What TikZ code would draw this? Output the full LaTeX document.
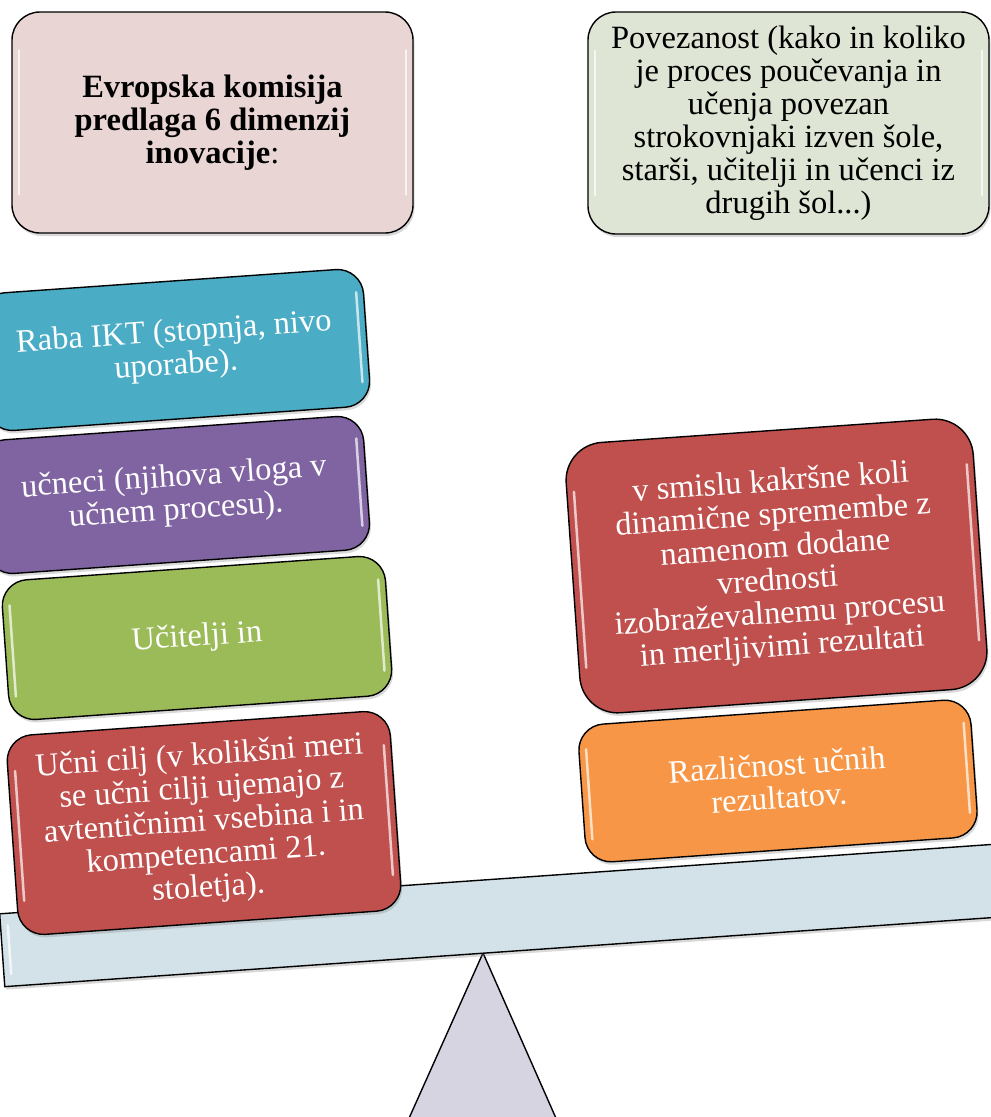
\documentclass[tikz,border=0pt]{standalone}
\usepackage{fontspec}
\setmainfont{Liberation Serif}
\usetikzlibrary{shadows,calc}

\definecolor{headpink}{HTML}{E8D5D4}
\definecolor{headgreen}{HTML}{DEE5D4}
\definecolor{iktblue}{HTML}{4BACC6}
\definecolor{ucpurple}{HTML}{8064A2}
\definecolor{ucgreen}{HTML}{9BBB59}
\definecolor{ciljred}{HTML}{C0504D}
\definecolor{rezorange}{HTML}{F79646}
\definecolor{beamblue}{HTML}{D3E2E9}
\definecolor{fulcrumgray}{HTML}{D7D4E1}

% white glossy strips near the inner left and right edges of a box
\newcommand\shine[1]{%
  \draw[glint] ($(#1.north west)!.17!(#1.south west)!8pt!(#1.east)$)
            -- ($(#1.north west)!.83!(#1.south west)!8pt!(#1.east)$);
  \draw[glint] ($(#1.north east)!.17!(#1.south east)!8pt!(#1.west)$)
            -- ($(#1.north east)!.83!(#1.south east)!8pt!(#1.west)$);
}

\begin{document}
\begin{tikzpicture}[x=1pt,y=-1pt,
    box/.style={draw=black,line width=1.4pt,rounded corners=26pt,align=center,
      text=white,inner sep=4pt,font=\fontsize{32.5}{33}\selectfont,
      drop shadow={shadow xshift=1.5pt,shadow yshift=-3pt,opacity=.3}},
    tilted/.style={box,rotate=4},
    glint/.style={white,opacity=.7,line width=2.5pt,line cap=round}]

    % fix the page to the size of the reference
    \useasboundingbox (0,0) rectangle (991,1117);

    % fulcrum and beam of the balance
    \draw [fill=fulcrumgray,line width=1.4pt,line join=round] (483,953) -- (406,1125) -- (559,1125) -- cycle;
    \node [box,rounded corners=0pt,fill=beamblue,minimum width=1010pt,minimum height=73pt,rotate=4] (beam) at (506,915) {};
    \shine{beam}

    % heading boxes
    \node [box,fill=headpink,text=black,minimum width=401pt,minimum height=221pt,rounded corners=28pt,
      font=\fontsize{32.5}{33}\selectfont\bfseries] (komisija) at (212.5,122.5)
      {Evropska komisija\\predlaga 6 dimenzij\\inovacije{\mdseries:}};
    \node [box,fill=headgreen,text=black,minimum width=401pt,minimum height=222pt,rounded corners=28pt] (povezanost) at (788.5,123)
      {Povezanost (kako in koliko\\je proces poučevanja in\\učenja povezan\\strokovnjaki izven šole,\\starši, učitelji in učenci iz\\drugih šol...)};

    % left pan
    \node [tilted,fill=iktblue,minimum width=384pt,minimum height=138pt] (ikt) at (175,350)
      {Raba IKT (stopnja, nivo\\uporabe).};
    \node [tilted,fill=ucpurple,minimum width=384pt,minimum height=134pt] (ucenci) at (175,495)
      {učneci (njihova vloga v\\učnem procesu).};
    \node [tilted,fill=ucgreen,minimum width=384pt,minimum height=140pt] (ucitelji) at (197,638)
      {Učitelji in};
    \node [tilted,fill=ciljred,minimum width=384pt,minimum height=200pt] (cilj) at (204,823)
      {Učni cilj (v kolikšni meri\\se učni cilji ujemajo z\\avtentičnimi vsebina i in\\kompetencami 21.\\stoletja).};

    % right pan
    \node [tilted,fill=ciljred,minimum width=408pt,minimum height=271pt,rounded corners=38pt] (spremembe) at (776.5,566)
      {v smislu kakršne koli\\dinamične spremembe z\\namenom dodane\\vrednosti\\izobraževalnemu procesu\\in merljivimi rezultati};
    \node [tilted,fill=rezorange,minimum width=393pt,minimum height=138pt] (rezultati) at (778,781)
      {Različnost učnih\\rezultatov.};

    % glossy strips
    \foreach \n in {komisija,povezanost,ikt,ucenci,ucitelji,cilj,spremembe,rezultati}{
      \shine{\n}
    }

\end{tikzpicture}
\end{document}
